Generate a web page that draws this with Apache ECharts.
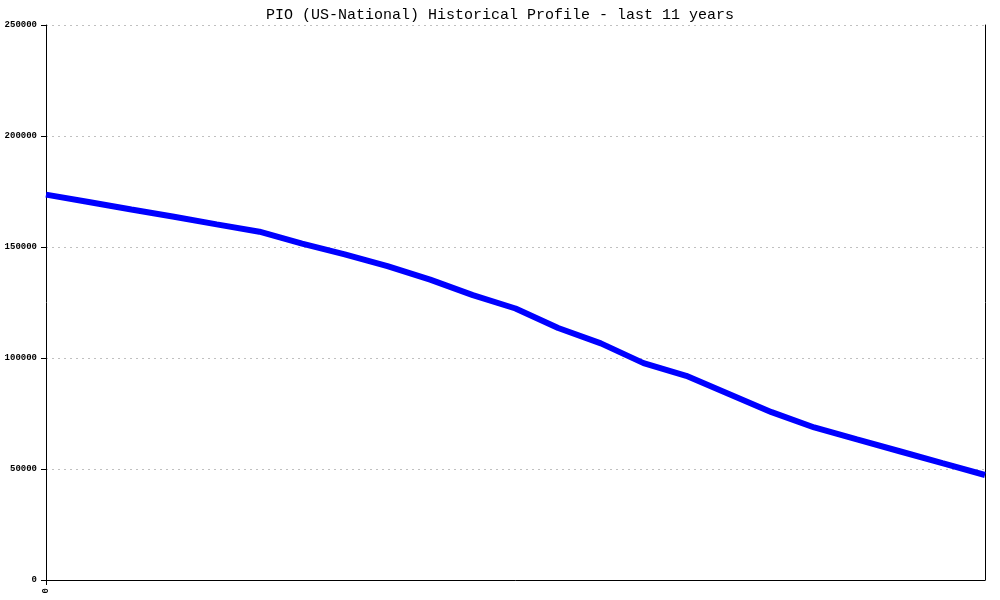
<!DOCTYPE html>
<html><head><meta charset="utf-8">
<script src="https://cdn.jsdelivr.net/npm/echarts@6/dist/echarts.min.js"></script>
<style>html,body{margin:0;padding:0;background:#fff}#c{width:1000px;height:600px}</style>
</head><body><div id="c"></div>
<script>
var titleText = "PIO (US-National) Historical Profile - last 11 years";
var categories = ["0","","","","","","","","","","","","","","","","","","","","","",""];
var values = [173600,170300,166900,163600,160200,156900,151500,146700,141400,135300,128300,122300,113500,106600,97700,92000,83800,75600,68700,63300,58000,52600,47300];
var yTicks = [0,50000,100000,150000,200000,250000];

var chart = echarts.init(document.getElementById('c'));
chart.setOption({
  animation:false,
  title:{text:titleText,left:'center',top:3,textStyle:{fontFamily:'Liberation Mono',fontSize:15,fontWeight:'normal',color:'#000'}},
  grid:{left:46,right:15,top:25,bottom:20},
  xAxis:{type:'category',data:categories,boundaryGap:false,
    axisLine:{lineStyle:{color:'#000',width:1}},
    axisTick:{length:5,interval:function(i){return i===0;},lineStyle:{color:'#000'}},
    axisLabel:{interval:0,rotate:90,margin:8,fontFamily:'Liberation Mono',fontSize:9,fontWeight:'bold',color:'#000'},
    splitLine:{show:false}},
  yAxis:[{type:'value',min:yTicks[0],max:yTicks[yTicks.length-1],interval:50000,
    axisLine:{show:true,lineStyle:{color:'#000'}},
    axisTick:{show:true,length:5,lineStyle:{color:'#000'}},
    axisLabel:{fontFamily:'Liberation Mono',fontSize:9,fontWeight:'bold',color:'#000',margin:9,formatter:function(v){return String(v);}},
    splitLine:{show:true,lineStyle:{color:'#c0c0c0',type:[2,4],width:1}}},
   {type:'value',position:'right',min:0,max:250000,interval:50000,
    axisLine:{show:true,lineStyle:{color:'#000'}},axisTick:{show:false},axisLabel:{show:false},splitLine:{show:false}}],
  series:[{type:'line',data:values,symbol:'none',lineStyle:{color:'#0000ff',width:6},itemStyle:{color:'#0000ff'}}]
});
</script></body></html>
